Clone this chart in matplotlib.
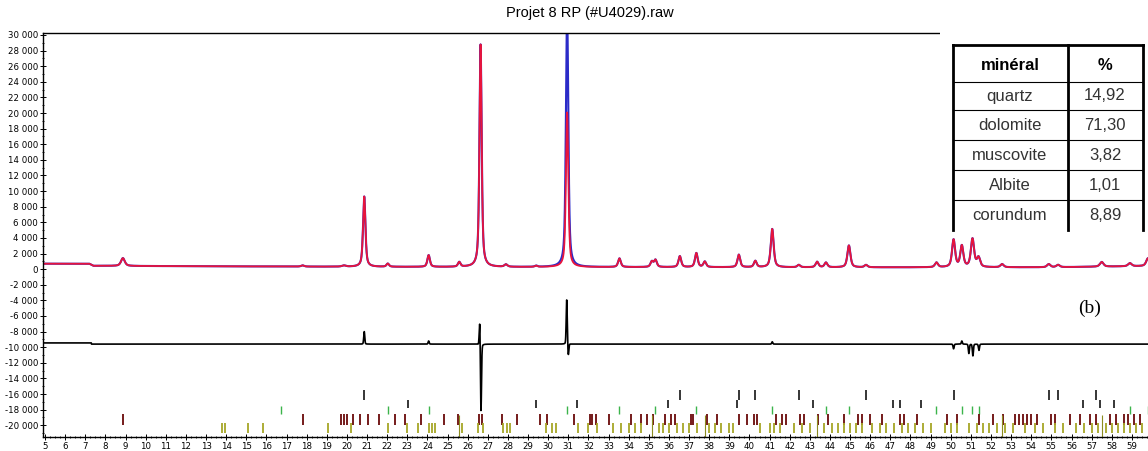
import numpy as np
import matplotlib.pyplot as plt
from matplotlib.ticker import MultipleLocator, FuncFormatter

# --- peaks (2theta, height above background) ---
peak_pos = [8.87, 17.80, 19.85, 20.86, 22.03, 24.06, 25.58, 26.64, 27.90, 29.40,
            30.94, 33.54, 35.15, 35.33, 36.54, 37.36, 37.78, 39.47, 40.29, 41.13,
            42.45, 43.36, 43.80, 44.94, 45.79, 49.29, 50.14, 50.55, 51.08, 51.38,
            52.55, 54.87, 55.33, 57.50, 58.90, 59.80]
obs_height = [1000, 150, 150, 9000, 400, 1500, 600, 28500, 300, 150,
              33000, 1100, 700, 900, 1400, 1800, 700, 1600, 800, 4900,
              300, 700, 600, 2800, 300, 600, 3500, 2700, 3600, 1200,
              400, 400, 300, 600, 400, 1000]
calc_height = [1000, 150, 150, 9000, 400, 1500, 600, 28500, 300, 150,
               19800, 1100, 700, 900, 1400, 1800, 700, 1600, 800, 4900,
               300, 700, 600, 2800, 300, 600, 3500, 2700, 3600, 1200,
               400, 400, 300, 600, 400, 1000]
peak_fwhm = [0.22, 0.18, 0.22, 0.14, 0.15, 0.15, 0.15, 0.13, 0.18, 0.15,
             0.14, 0.16, 0.16, 0.16, 0.16, 0.16, 0.16, 0.16, 0.16, 0.17,
             0.17, 0.17, 0.17, 0.18, 0.18, 0.18, 0.18, 0.18, 0.19, 0.19,
             0.19, 0.20, 0.20, 0.21, 0.21, 0.21]

# background knots
bg_pos = [4.9, 7.2, 7.4, 12.0, 20.0, 25.0, 35.0, 45.0, 55.0, 59.8]
bg_val = [700, 700, 430, 380, 310, 280, 260, 230, 240, 400]

# difference curve: offset and spikes
diff_offset = -9600
diff_pos = [20.86, 24.06, 26.60, 26.66, 30.92, 31.00, 41.13, 50.14, 50.55, 50.90, 51.10, 51.40]
diff_amp = [1600, 400, 3200, -8800, 5700, -1500, 300, -600, 400, -1200, -1500, -800]

# reflection tick rows (positions in 2theta)
quartz_pos = [20.86, 26.64, 36.54, 39.47, 40.29, 42.45, 45.79, 50.14, 54.87, 55.33, 57.23]
calcite_pos = [23.05, 29.40, 31.42, 35.97, 39.40, 43.15, 47.11, 47.50, 48.51, 56.57, 57.40, 58.10]
dolomite_pos = [16.70, 22.03, 24.06, 30.94, 33.54, 35.33, 37.36, 41.13, 43.80, 44.94,
                49.29, 50.55, 51.08, 51.38, 58.90, 59.80]
muscovite_pos = [8.85, 17.80, 19.70, 19.85, 20.00, 20.30, 20.65, 21.05, 21.60, 22.40,
                 22.90, 23.70, 24.80, 25.50, 26.55, 26.70, 27.70, 28.45, 29.60, 29.95,
                 31.30, 32.10, 32.20, 32.35, 33.00, 34.10, 34.60, 34.90, 35.20, 35.80,
                 36.10, 36.30, 37.10, 37.20, 37.90, 38.40, 39.50, 39.90, 40.20, 40.35,
                 41.30, 41.60, 41.80, 42.50, 42.70, 43.40, 43.90, 44.70, 45.40, 45.60,
                 46.00, 46.60, 47.50, 47.70, 48.30, 49.80, 50.30, 51.40, 52.10, 52.60,
                 53.20, 53.40, 53.60, 53.80, 54.00, 54.30, 55.00, 55.20, 55.90, 56.40,
                 56.90, 57.20, 57.90, 58.20, 58.60, 58.80, 59.10, 59.40]
albite_pos = [13.80, 13.95, 15.10, 15.85, 19.05, 20.20, 22.05, 23.00, 23.55, 24.10,
              24.25, 24.40, 25.70, 26.50, 26.75, 27.75, 27.95, 28.10, 29.90, 30.20,
              30.40, 31.50, 32.00, 32.40, 33.20, 33.60, 34.00, 34.30, 34.60, 35.50,
              35.70, 36.00, 36.40, 36.70, 37.00, 37.40, 38.00, 38.30, 38.60, 39.00,
              39.20, 40.50, 41.00, 41.20, 41.50, 42.20, 42.60, 43.00, 43.70, 44.10,
              44.40, 44.70, 45.00, 45.30, 45.60, 46.10, 46.50, 46.80, 47.20, 47.60,
              47.90, 48.20, 48.60, 49.00, 49.70, 50.00, 50.30, 50.90, 51.30, 51.60,
              51.90, 52.30, 52.70, 53.10, 53.70, 54.20, 54.60, 55.20, 55.60, 56.20,
              56.60, 57.00, 57.30, 57.70, 58.00, 58.30, 58.60, 58.90, 59.20, 59.50]
corundum_pos = [25.58, 35.15, 37.78, 43.36, 52.55, 57.50]

# table
minerals = ["quartz", "dolomite", "muscovite", "Albite", "corundum"]
percents = ["14,92", "71,30", "3,82", "1,01", "8,89"]


def pv(x, p, h, w, eta=0.6):
    g = np.exp(-4 * np.log(2) * ((x - p) / w) ** 2)
    l = 1 / (1 + 4 * ((x - p) / w) ** 2)
    return h * (eta * l + (1 - eta) * g)


tt = np.arange(4.9, 59.85, 0.005)
bg = np.interp(tt, bg_pos, bg_val)
obs = bg.copy()
calc = bg.copy()
for p, ho, hc, w in zip(peak_pos, obs_height, calc_height, peak_fwhm):
    obs += pv(tt, p, ho, w)
    calc += pv(tt, p, hc, w)
diff = np.full_like(tt, diff_offset) + np.where(tt < 7.3, 150, 0)
for p, a in zip(diff_pos, diff_amp):
    diff += pv(tt, p, a, 0.06, eta=0.2)

fig = plt.figure(figsize=(11.48, 4.51), dpi=100)
ax = fig.add_axes([43 / 1148, 1 - 437 / 451, 1105 / 1148, 404 / 451])

ax.plot(tt, obs, color="#2b2bc8", lw=1.5)
ax.plot(tt, calc, color="#e8143c", lw=1.3)
ax.plot(tt, diff, color="black", lw=1.2)

ax.vlines(quartz_pos, -16800, -15500, color="black", lw=1.1)
ax.vlines(calcite_pos, -17800, -16700, color="black", lw=1.1)
ax.vlines(dolomite_pos, -18600, -17500, color="#3cb44b", lw=1.0)
ax.vlines(muscovite_pos, -19900, -18500, color="#6a0a0a", lw=1.3)
ax.vlines(albite_pos, -21000, -19700, color="#a6a626", lw=1.3)
ax.vlines(corundum_pos, -21500, -18700, color="#8c8c20", lw=0.8)

ax.set_xlim(4.9, 59.8)
ax.set_ylim(-21500, 30250)
ax.xaxis.set_major_locator(MultipleLocator(1))
ax.xaxis.set_minor_locator(MultipleLocator(0.25))
ax.yaxis.set_major_locator(MultipleLocator(2000))
ax.yaxis.set_minor_locator(MultipleLocator(1000))
ax.yaxis.set_major_formatter(FuncFormatter(lambda v, _: f"{int(v):,}".replace(",", " ")))
ax.tick_params(axis="both", which="major", labelsize=6.2, length=4, width=0.7,
               direction="inout", pad=1.5)
ax.tick_params(axis="both", which="minor", length=2, width=0.6, direction="inout")
ax.spines["right"].set_visible(False)
for s in ["left", "bottom", "top"]:
    ax.spines[s].set_linewidth(1.0)

fig.text(590 / 1148, 1 - 13 / 451, "Projet 8 RP (#U4029).raw", ha="center", va="center",
         fontsize=10.5, family="Liberation Sans")
fig.text(1090 / 1148, 1 - 308 / 451, "(b)", ha="center", va="center",
         fontsize=14, family="Liberation Serif")

# table drawn over the plot in pixel coordinates
tax = fig.add_axes([940 / 1148, 1 - 232 / 451, 208 / 1148, 207 / 451])
tax.set_xlim(940, 1148)
tax.set_ylim(232, 25)
tax.set_facecolor("white")
tax.axis("off")
tax.add_patch(plt.Rectangle((940, 25), 208, 207, color="white", zorder=0))
for xv in [953, 1068, 1143]:
    tax.plot([xv, xv], [45, 230], color="black", lw=2)
tax.plot([953, 1143], [45, 45], color="black", lw=2)
for yv in [82, 110, 140, 170, 200]:
    tax.plot([953, 1143], [yv, yv], color="black", lw=0.8)
tax.text(1010, 65, "minéral", ha="center", va="center", fontsize=12,
         fontweight="bold", family="Liberation Sans")
tax.text(1105, 65, "%", ha="center", va="center", fontsize=12,
         fontweight="bold", family="Liberation Sans")
for i, (m, pc) in enumerate(zip(minerals, percents)):
    yc = 96 + i * 30
    tax.text(1010, yc, m, ha="center", va="center", fontsize=12,
             family="Liberation Sans", color="#333333")
    tax.text(1105, yc, pc, ha="center", va="center", fontsize=12,
             family="Liberation Sans", color="#333333")

fig.savefig("out.png", dpi=100)
